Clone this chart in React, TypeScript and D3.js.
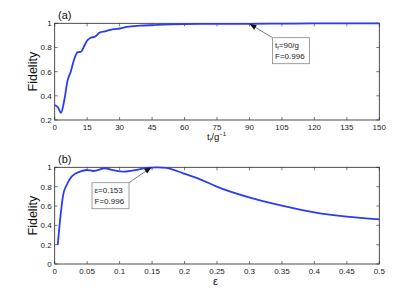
import React from 'react';
import * as d3 from 'd3';

// panel (a): fidelity vs final time t_f (units of 1/g)
const timeValues = [0, 1.5, 2.9, 4.3, 6, 7.4, 8.9, 10.5, 12.2, 13.6, 15.1, 16.6, 18.6, 20.9, 23.7, 27.1, 30.2, 33.3, 39.4, 45.6, 59.5, 75, 90, 110, 130, 150];
const fidelityA = [0.324, 0.305, 0.26, 0.351, 0.53, 0.6, 0.696, 0.76, 0.765, 0.81, 0.86, 0.88, 0.889, 0.925, 0.935, 0.952, 0.957, 0.97, 0.98, 0.985, 0.993, 0.995, 0.996, 0.998, 0.999, 1.0];
const xTicksA = [0, 15, 30, 45, 60, 75, 90, 105, 120, 135, 150];
const yTicksA = [0.2, 0.4, 0.6, 0.8, 1];

// panel (b): fidelity vs epsilon
const epsValues = [0.0046, 0.008, 0.013, 0.0185, 0.026, 0.039, 0.049, 0.06, 0.0775, 0.09, 0.106, 0.121, 0.142, 0.157, 0.172, 0.198, 0.224, 0.2495, 0.3008, 0.35, 0.4, 0.45, 0.5];
const fidelityB = [0.196, 0.437, 0.713, 0.817, 0.903, 0.955, 0.972, 0.962, 0.99, 0.97, 0.955, 0.968, 0.993, 1.0, 0.993, 0.938, 0.876, 0.8, 0.686, 0.603, 0.534, 0.489, 0.462];
const xTicksB = [0, 0.05, 0.1, 0.15, 0.2, 0.25, 0.3, 0.35, 0.4, 0.45, 0.5];
const yTicksB = [0, 0.2, 0.4, 0.6, 0.8, 1];

const font = '"Liberation Sans", Arial, sans-serif';
const blue = '#2b3cf5';

interface PanelProps {
  xs: number[];
  ys: number[];
  xDomain: [number, number];
  yDomain: [number, number];
  xTicks: number[];
  yTicks: number[];
  top: number;
  bottom: number;
  tag: string;
  xLabel: React.ReactNode;
  note: { x: number; y: number; bx: number; by: number; lines: React.ReactNode[] };
}

const left = 54.7;
const right = 379.3;

function Panel({ xs, ys, xDomain, yDomain, xTicks, yTicks, top, bottom, tag, xLabel, note }: PanelProps) {
  const x = d3.scaleLinear().domain(xDomain).range([left, right]);
  const y = d3.scaleLinear().domain(yDomain).range([bottom, top]);
  const line = d3.line<number>().x((d, i) => x(xs[i])).y(d => y(d)).curve(d3.curveMonotoneX);
  const ax = x(note.x);
  const ay = y(note.y);
  // arrow head pointing from box corner to the data point
  const sx = note.bx + (note.bx < ax ? 37 : 0);
  const sy = note.by;
  const ang = Math.atan2(ay - sy, ax - sx);
  const hl = 7, hw = 2.6;
  const p1 = [ax - hl * Math.cos(ang) + hw * Math.sin(ang), ay - hl * Math.sin(ang) - hw * Math.cos(ang)];
  const p2 = [ax - hl * Math.cos(ang) - hw * Math.sin(ang), ay - hl * Math.sin(ang) + hw * Math.cos(ang)];
  return (
    <g fontFamily={font}>
      <rect x={left} y={top} width={right - left} height={bottom - top} fill="white" stroke="#222" strokeWidth={0.8} />
      {xTicks.map(t => (
        <g key={'x' + t}>
          <line x1={x(t)} x2={x(t)} y1={bottom} y2={bottom - 3} stroke="#222" strokeWidth={0.6} />
          <line x1={x(t)} x2={x(t)} y1={top} y2={top + 3} stroke="#222" strokeWidth={0.6} />
          <text x={x(t)} y={bottom + 10} fontSize={8} textAnchor="middle" fill="#222">{String(t)}</text>
        </g>
      ))}
      {yTicks.map(t => (
        <g key={'y' + t}>
          <line x1={left} x2={left + 3} y1={y(t)} y2={y(t)} stroke="#222" strokeWidth={0.6} />
          <line x1={right} x2={right - 3} y1={y(t)} y2={y(t)} stroke="#222" strokeWidth={0.6} />
          <text x={left - 3} y={y(t) + 3} fontSize={8} textAnchor="end" fill="#222">{String(t)}</text>
        </g>
      ))}
      <path d={line(ys) || ''} fill="none" stroke={blue} strokeWidth={1.8} />
      <text x={58} y={top - 4} fontSize={11} fill="#111">{tag}</text>
      <text transform={`translate(37,${(top + bottom) / 2}) rotate(-90)`} fontSize={12.5} textAnchor="middle" fill="#111">Fidelity</text>
      {xLabel}
      <line x1={sx} y1={sy} x2={ax - 5 * Math.cos(ang)} y2={ay - 5 * Math.sin(ang)} stroke="#222" strokeWidth={0.6} />
      <polygon points={`${ax},${ay} ${p1[0]},${p1[1]} ${p2[0]},${p2[1]}`} fill="#111" />
      <rect x={note.bx} y={note.by} width={37} height={26} fill="white" stroke="#888" strokeWidth={0.8} />
      {note.lines.map((l, i) => (
        <text key={i} x={note.bx + 2.5} y={note.by + 10.5 + i * 10.5} fontSize={8} fill="#222">{l}</text>
      ))}
    </g>
  );
}

export default function App() {
  return (
    <svg width={419} height={304} style={{ position: 'absolute', left: 0, top: 0 }}>
      <rect width={419} height={304} fill="white" />
      <Panel
        xs={timeValues} ys={fidelityA} xDomain={[0, 150]} yDomain={[0.2, 1]}
        xTicks={xTicksA} yTicks={yTicksA} top={23.3} bottom={120} tag="(a)"
        xLabel={<text x={207} y={140} fontSize={9.5} fill="#111">t<tspan fontSize={6} dy={2}>f</tspan><tspan dy={-2}>/g</tspan><tspan fontSize={6} dy={-4}>−1</tspan></text>}
        note={{ x: 90, y: 0.996, bx: 272.5, by: 37.7, lines: [<tspan>t<tspan fontSize={5.5} dy={2}>f</tspan><tspan dy={-2}>=90/g</tspan></tspan>, 'F=0.996'] }}
      />
      <Panel
        xs={epsValues} ys={fidelityB} xDomain={[0, 0.5]} yDomain={[0, 1]}
        xTicks={xTicksB} yTicks={yTicksB} top={167.3} bottom={264} tag="(b)"
        xLabel={<text x={213} y={285} fontSize={11} fill="#111">ε</text>}
        note={{ x: 0.149, y: 1.0, bx: 92, by: 182.7, lines: ['ε=0.153', 'F=0.996'] }}
      />
    </svg>
  );
}
